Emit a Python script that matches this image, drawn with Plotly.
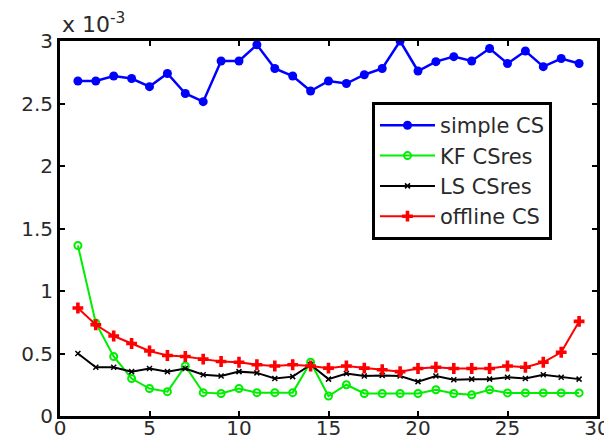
import plotly.graph_objects as go

x_vals = list(range(1, 30))

simple_cs = [2.68, 2.68, 2.72, 2.70, 2.635, 2.74, 2.58, 2.515, 2.84, 2.84,
             2.97, 2.78, 2.72, 2.60, 2.68, 2.66, 2.73, 2.78, 3.00, 2.76,
             2.835, 2.875, 2.84, 2.94, 2.82, 2.92, 2.795, 2.86, 2.82]

kf_csres = [1.364, 0.745, 0.476, 0.30, 0.22, 0.195, 0.40, 0.187, 0.18, 0.22,
            0.187, 0.187, 0.187, 0.43, 0.16, 0.25, 0.18, 0.18, 0.18, 0.18,
            0.21, 0.18, 0.17, 0.21, 0.185, 0.185, 0.185, 0.185, 0.185]

ls_csres = [0.50, 0.39, 0.39, 0.355, 0.38, 0.355, 0.38, 0.33, 0.32, 0.355,
            0.345, 0.30, 0.315, 0.41, 0.295, 0.34, 0.32, 0.325, 0.32, 0.275,
            0.32, 0.29, 0.295, 0.295, 0.31, 0.30, 0.33, 0.31, 0.295]

offline_cs = [0.864, 0.73, 0.64, 0.58, 0.52, 0.484, 0.476, 0.455, 0.436, 0.43,
              0.41, 0.40, 0.41, 0.40, 0.383, 0.40, 0.383, 0.37, 0.355, 0.38,
              0.39, 0.38, 0.38, 0.38, 0.40, 0.39, 0.43, 0.51, 0.757]

series_names = ["simple CS", "KF CSres", "LS CSres", "offline CS"]

x_ticks = [0, 5, 10, 15, 20, 25, 30]
y_ticks = [0, 0.5, 1, 1.5, 2, 2.5, 3]
y_tick_text = ["0", "0.5", "1", "1.5", "2", "2.5", "3"]

font_family = "DejaVu Sans, Verdana, sans-serif"
text_color = "#2a2a2a"

fig = go.Figure()
fig.add_trace(go.Scatter(x=x_vals, y=simple_cs, name=series_names[0], mode="lines+markers",
                         line=dict(color="#0000ff", width=2.5),
                         marker=dict(symbol="circle", size=9, color="#0000ff")))
fig.add_trace(go.Scatter(x=x_vals, y=kf_csres, name=series_names[1], mode="lines+markers",
                         line=dict(color="#00ee00", width=2),
                         marker=dict(symbol="circle-open", size=7, color="#00ee00",
                                     line=dict(width=2, color="#00ee00"))))
fig.add_trace(go.Scatter(x=x_vals, y=ls_csres, name=series_names[2], mode="lines+markers",
                         line=dict(color="#000000", width=2),
                         marker=dict(symbol="x-thin", size=5, color="#000000",
                                     line=dict(width=1.5, color="#000000"))))
fig.add_trace(go.Scatter(x=x_vals, y=offline_cs, name=series_names[3], mode="lines+markers",
                         line=dict(color="#ff0000", width=2),
                         marker=dict(symbol="cross", size=9, color="#ff0000")))

# page body has an 8px margin; the figure is placed so the plot area lines up
fig.update_layout(
    width=604, height=437,
    margin=dict(l=52, r=15, t=33, b=29),
    paper_bgcolor="white", plot_bgcolor="white",
    font=dict(family=font_family, size=20, color=text_color),
    legend=dict(x=0.581, y=0.837, xanchor="left", yanchor="top",
                bgcolor="white", bordercolor="black", borderwidth=3,
                font=dict(size=21, color=text_color),
                tracegroupgap=0, itemwidth=55),
    annotations=[dict(text="x 10<sup>-3</sup>", xref="paper", yref="paper",
                      x=0, y=1, xanchor="left", yanchor="bottom", yshift=2,
                      showarrow=False, font=dict(size=22, color=text_color))],
)
fig.update_xaxes(range=[0, 30], tickvals=x_ticks, showgrid=False, zeroline=False,
                 showline=True, linecolor="black", linewidth=3, mirror="ticks",
                 ticks="inside", ticklen=5, tickwidth=2, tickcolor="black",
                 automargin=False, ticklabelstandoff=-8,
                 tickfont=dict(size=20, color=text_color))
fig.update_yaxes(range=[0, 3], tickvals=y_ticks, ticktext=y_tick_text, showgrid=False,
                 zeroline=False, showline=True, linecolor="black", linewidth=3,
                 mirror="ticks", ticks="inside", ticklen=5, tickwidth=2, tickcolor="black",
                 automargin=False,
                 tickfont=dict(size=20, color=text_color))

fig.write_html("out.html")
